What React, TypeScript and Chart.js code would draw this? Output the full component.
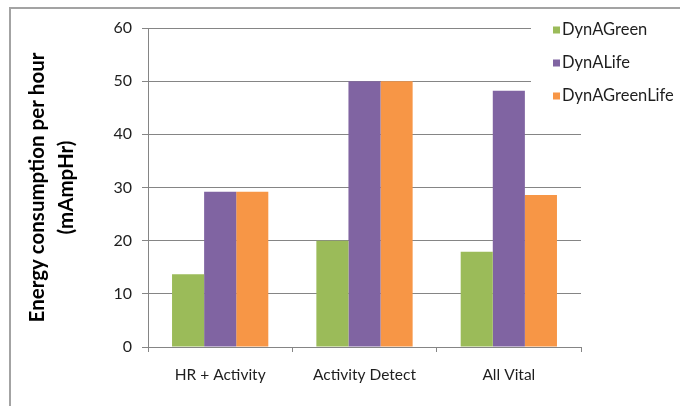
import React, { useEffect, useRef } from "react";
import { Chart, registerables } from "chart.js";

Chart.register(...registerables);

const categories = ["HR + Activity", "Activity Detect", "All Vital"];
const seriesNames = ["DynAGreen", "DynALife", "DynAGreenLife"];
const dynAGreen = [13.7, 20, 17.9];
const dynALife = [29.2, 50, 48.2];
const dynAGreenLife = [29.2, 50, 28.6];
const seriesColors = ["#9BBB59", "#8064A2", "#F79646"];
const yTitle = ["Energy consumption per hour", "(mAmpHr)"];

const FONT = "Lato, 'Open Sans', sans-serif";
const GRID = "#858585";
const TEXT = "#1e1e1e";

// Frame around the whole chart
const framePlugin = {
  id: "frame",
  beforeDraw(chart: any) {
    const { ctx, width, height } = chart;
    ctx.save();
    ctx.fillStyle = "#ffffff";
    ctx.fillRect(0, 0, width, height);
    ctx.strokeStyle = "#a3a3a3";
    ctx.lineWidth = 2;
    ctx.strokeRect(10, 8, width + 20, height + 20);
    ctx.restore();
  },
};

// Legend box drawn over the right edge of the plot
const legendPlugin = {
  id: "sideLegend",
  afterDraw(chart: any) {
    const { ctx } = chart;
    ctx.save();
    ctx.fillStyle = "#ffffff";
    ctx.fillRect(531, 14, 140, 101);
    ctx.font = `16.5px ${FONT}`;
    ctx.textBaseline = "middle";
    ctx.textAlign = "left";
    chart.data.datasets.forEach((ds: any, i: number) => {
      const y = 30 + i * 33;
      ctx.fillStyle = ds.backgroundColor;
      ctx.fillRect(553, y - 3.5, 7, 7);
      ctx.fillStyle = TEXT;
      ctx.fillText(ds.label, 562, y);
    });
    ctx.restore();
  },
};

export default function App() {
  const ref = useRef<HTMLCanvasElement>(null);

  useEffect(() => {
    if (!ref.current) return;
    const values = [dynAGreen, dynALife, dynAGreenLife];
    const chart = new Chart(ref.current, {
      type: "bar",
      data: {
        labels: categories,
        datasets: seriesNames.map((name, i) => ({
          label: name,
          data: values[i],
          backgroundColor: seriesColors[i],
          borderWidth: 0,
          categoryPercentage: 0.667,
          barPercentage: 1,
        })),
      },
      options: {
        animation: false,
        responsive: false,
        devicePixelRatio: 1,
        layout: { padding: { left: 0, top: 28, right: 99, bottom: 0 } },
        plugins: {
          legend: { display: false },
          tooltip: { enabled: false },
        },
        scales: {
          x: {
            grid: {
              drawOnChartArea: false,
              drawTicks: true,
              tickLength: 5,
              color: GRID,
              offset: true,
            },
            border: { display: true, color: GRID },
            ticks: {
              color: TEXT,
              font: { family: FONT, size: 15.5 },
              padding: 14,
              maxRotation: 0,
            },
            afterFit(scale: any) {
              scale.height = 59;
            },
          },
          y: {
            min: 0,
            max: 60,
            ticks: {
              stepSize: 10,
              color: TEXT,
              font: { family: FONT, size: 16 },
              padding: 10,
            },
            grid: { color: GRID, tickLength: 6, drawTicks: true },
            border: { display: true, color: GRID },
            title: {
              display: true,
              text: yTitle,
              color: "#000000",
              font: { family: FONT, size: 20.5, weight: "bold", lineHeight: "29px" },
              padding: { top: 23, bottom: 0 },
            },
            afterFit(scale: any) {
              scale.width = 148;
            },
          },
        },
      },
      plugins: [framePlugin, legendPlugin],
    });
    return () => chart.destroy();
  }, []);

  return (
    <div style={{ position: "absolute", left: 0, top: 0, width: 680, height: 406, background: "#fff" }}>
      <canvas ref={ref} width={680} height={406} style={{ width: 680, height: 406, display: "block" }} />
    </div>
  );
}
